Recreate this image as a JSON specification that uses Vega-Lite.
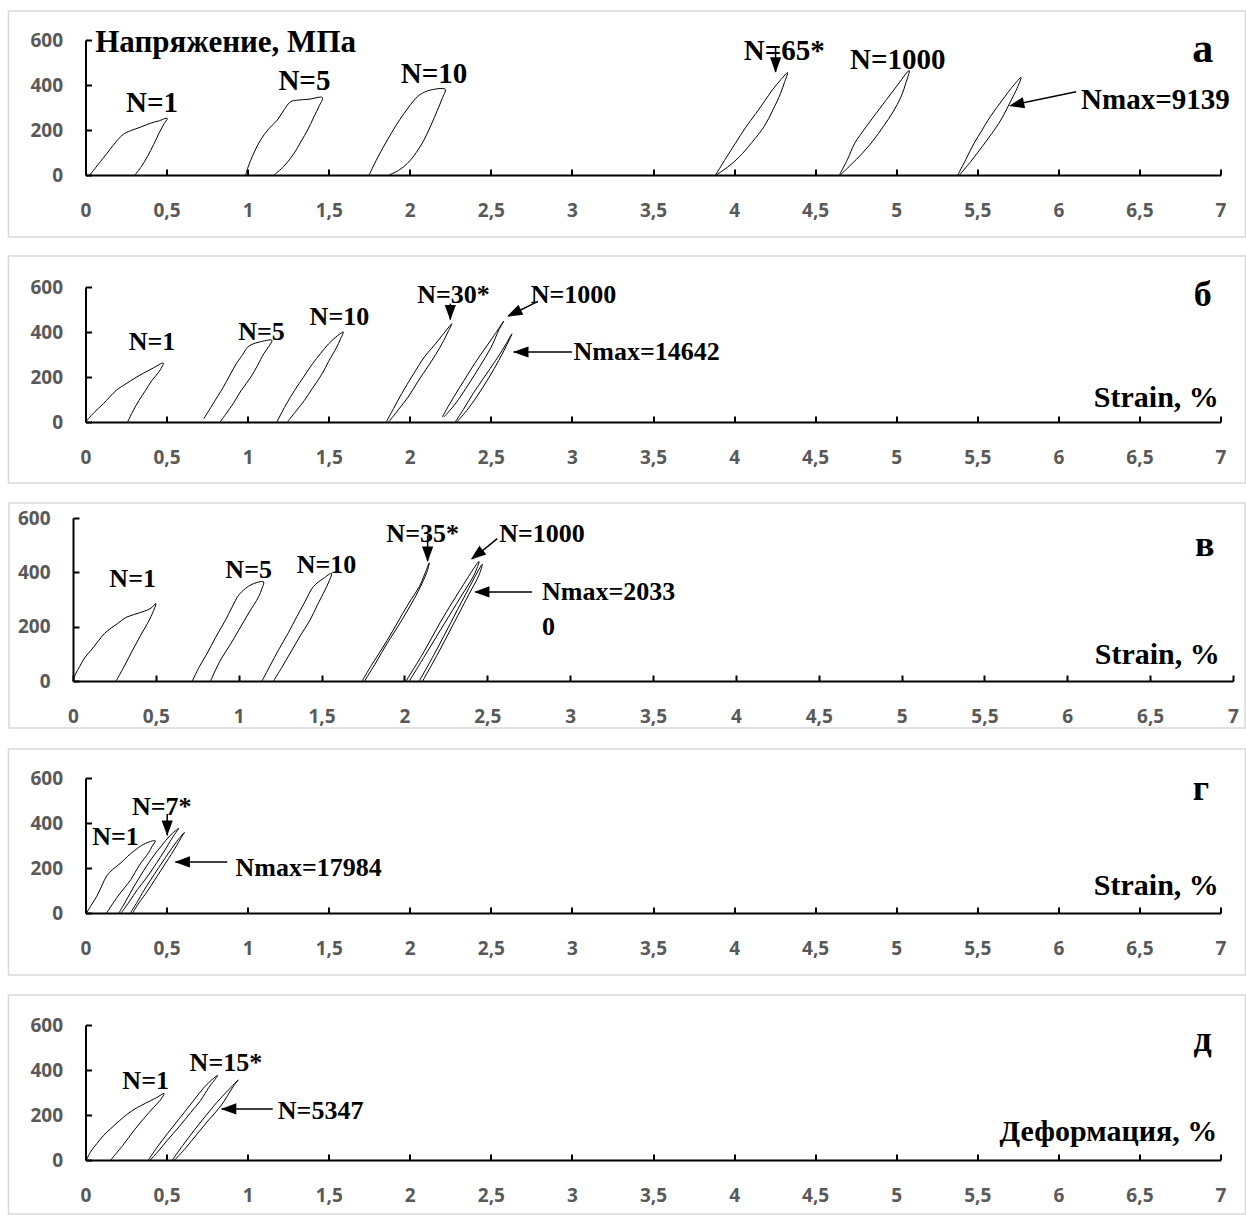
{
"$schema": "https://vega.github.io/schema/vega-lite/v6.json",
"background": "white",
"padding": {"left": 7, "top": 10, "right": 0, "bottom": 0},
"autosize": {"type": "pad"},
"bounds": "flush",
"center": true,
"spacing": 96,
"config": {
  "view": {"stroke": null},
  "axis": {"grid": false, "title": null, "domainColor": "#000000", "domainWidth": 2, "tickColor": "#000000", "tickWidth": 2, "tickSize": -6, "labelColor": "#595959", "labelFont": "Open Sans", "labelFontWeight": "bold", "labelFontSize": 19, "labelOverlap": false, "labelFlush": false},
  "axisX": {"labelPadding": 32},
  "axisY": {"labelPadding": 29},
  "text": {"font": "Liberation Serif", "fontWeight": "bold", "color": "#000000"},
  "line": {"color": "#000000", "strokeWidth": 1, "interpolate": "catmull-rom"},
  "rule": {"color": "#000000", "strokeWidth": 1.5}
},
"vconcat": [
{
  "width": 1135, "height": 135,
  "encoding": {
    "x": {"field": "x", "type": "quantitative", "scale": {"domain": [0, 7], "nice": false, "zero": false}, "axis": {"values": [0,0.5,1,1.5,2,2.5,3,3.5,4,4.5,5,5.5,6,6.5,7], "labelExpr": "replace(format(datum.value,'~g'),'.',',')"}},
    "y": {"field": "y", "type": "quantitative", "scale": {"domain": [0, 600], "nice": false, "zero": false}, "axis": {"values": [0,200,400,600]}}
  },
  "layer": [
    {"data": {"values": [{"x": -0.475, "x2": 7.154, "y": 729, "y2": -276}]}, "mark": {"type": "rect", "filled": false, "color": "#d9d9d9", "strokeWidth": 1.5}, "encoding": {"x2": {"field": "x2"}, "y2": {"field": "y2"}}},
    {"data": {"values": [
      {"l":"a1","x":0.027,"y":0},{"l":"a1","x":0.12,"y":85},{"l":"a1","x":0.216,"y":170},{"l":"a1","x":0.25,"y":188},{"l":"a1","x":0.278,"y":197},{"l":"a1","x":0.34,"y":213},{"l":"a1","x":0.40,"y":230},{"l":"a1","x":0.45,"y":240},{"l":"a1","x":0.504,"y":252},{"l":"a1","x":0.48,"y":222},{"l":"a1","x":0.453,"y":185},{"l":"a1","x":0.42,"y":135},{"l":"a1","x":0.381,"y":81},{"l":"a1","x":0.345,"y":38},{"l":"a1","x":0.305,"y":0},
      {"l":"a5","x":0.988,"y":0},{"l":"a5","x":1.0,"y":30},{"l":"a5","x":1.04,"y":100},{"l":"a5","x":1.08,"y":156},{"l":"a5","x":1.13,"y":205},{"l":"a5","x":1.183,"y":244},{"l":"a5","x":1.225,"y":290},{"l":"a5","x":1.265,"y":326},{"l":"a5","x":1.3,"y":332},{"l":"a5","x":1.38,"y":337},{"l":"a5","x":1.461,"y":344},{"l":"a5","x":1.44,"y":305},{"l":"a5","x":1.409,"y":259},{"l":"a5","x":1.37,"y":200},{"l":"a5","x":1.33,"y":150},{"l":"a5","x":1.286,"y":96},{"l":"a5","x":1.225,"y":40},{"l":"a5","x":1.163,"y":0},
      {"l":"a10","x":1.749,"y":0},{"l":"a10","x":1.80,"y":75},{"l":"a10","x":1.862,"y":156},{"l":"a10","x":1.915,"y":220},{"l":"a10","x":1.965,"y":274},{"l":"a10","x":2.047,"y":348},{"l":"a10","x":2.09,"y":368},{"l":"a10","x":2.13,"y":378},{"l":"a10","x":2.218,"y":381},{"l":"a10","x":2.20,"y":340},{"l":"a10","x":2.171,"y":289},{"l":"a10","x":2.13,"y":220},{"l":"a10","x":2.088,"y":156},{"l":"a10","x":2.04,"y":100},{"l":"a10","x":1.986,"y":52},{"l":"a10","x":1.93,"y":20},{"l":"a10","x":1.872,"y":0},
      {"l":"a65","x":3.886,"y":0},{"l":"a65","x":3.95,"y":75},{"l":"a65","x":4.008,"y":141},{"l":"a65","x":4.07,"y":210},{"l":"a65","x":4.135,"y":274},{"l":"a65","x":4.19,"y":330},{"l":"a65","x":4.236,"y":378},{"l":"a65","x":4.29,"y":425},{"l":"a65","x":4.33,"y":455},{"l":"a65","x":4.31,"y":410},{"l":"a65","x":4.287,"y":363},{"l":"a65","x":4.24,"y":290},{"l":"a65","x":4.185,"y":215},{"l":"a65","x":4.11,"y":145},{"l":"a65","x":4.033,"y":81},{"l":"a65","x":3.96,"y":35},{"l":"a65","x":3.89,"y":0},
      {"l":"a1000","x":4.65,"y":0},{"l":"a1000","x":4.70,"y":70},{"l":"a1000","x":4.744,"y":141},{"l":"a1000","x":4.81,"y":210},{"l":"a1000","x":4.876,"y":274},{"l":"a1000","x":4.94,"y":335},{"l":"a1000","x":5.0,"y":392},{"l":"a1000","x":5.08,"y":464},{"l":"a1000","x":5.06,"y":410},{"l":"a1000","x":5.03,"y":348},{"l":"a1000","x":4.98,"y":280},{"l":"a1000","x":4.92,"y":215},{"l":"a1000","x":4.86,"y":155},{"l":"a1000","x":4.79,"y":96},{"l":"a1000","x":4.72,"y":45},{"l":"a1000","x":4.655,"y":0},
      {"l":"a9139","x":5.38,"y":0},{"l":"a9139","x":5.43,"y":70},{"l":"a9139","x":5.48,"y":141},{"l":"a9139","x":5.53,"y":200},{"l":"a9139","x":5.58,"y":259},{"l":"a9139","x":5.67,"y":348},{"l":"a9139","x":5.72,"y":395},{"l":"a9139","x":5.77,"y":434},{"l":"a9139","x":5.745,"y":385},{"l":"a9139","x":5.72,"y":348},{"l":"a9139","x":5.645,"y":244},{"l":"a9139","x":5.59,"y":185},{"l":"a9139","x":5.53,"y":126},{"l":"a9139","x":5.46,"y":60},{"l":"a9139","x":5.39,"y":0}
    ]}, "mark": {"type": "line"}, "encoding": {"detail": {"field": "l"}, "order": {"value": null}}},
    {"data": {"values": [{"x":4.256,"y":570,"x2":4.256,"y2":458},{"x":6.11,"y":370,"x2":5.72,"y2":312}]}, "mark": {"type": "rule"}, "encoding": {"x2": {"field": "x2"}, "y2": {"field": "y2"}}},
    {"data": {"values": [{"x":4.256,"y":455}]}, "mark": {"type": "point", "shape": "M0,0L-0.8,2.2L0.8,2.2Z", "filled": true, "color": "#000000", "opacity": 1, "size": 196, "angle": 180}},
    {"data": {"values": [{"x":5.695,"y":307}]}, "mark": {"type": "point", "shape": "M0,0L-0.8,2.2L0.8,2.2Z", "filled": true, "color": "#000000", "opacity": 1, "size": 196, "angle": 258}},
    {"data": {"values": [{"t":"N=1","x":0.41,"y":318},{"t":"N=5","x":1.35,"y":420},{"t":"N=10","x":2.15,"y":450},{"t":"N=65*","x":4.31,"y":552},{"t":"N=1000","x":5.01,"y":512}]}, "mark": {"type": "text", "fontSize": 29, "align": "center", "baseline": "middle"}, "encoding": {"text": {"field": "t"}}},
    {"data": {"values": [{"t":"Nmax=9139","x":6.14,"y":335}]}, "mark": {"type": "text", "fontSize": 29, "align": "left", "baseline": "middle"}, "encoding": {"text": {"field": "t"}}},
    {"data": {"values": [{"t":"Напряжение, МПа","x":0.06,"y":588}]}, "mark": {"type": "text", "fontSize": 31, "align": "left", "baseline": "middle"}, "encoding": {"text": {"field": "t"}}},
    {"data": {"values": [{"t":"а","x":6.89,"y":560}]}, "mark": {"type": "text", "fontSize": 42, "align": "center", "baseline": "middle"}, "encoding": {"text": {"field": "t"}}}
  ]
},
{
  "width": 1135, "height": 151,
  "encoding": {
    "x": {"field": "x", "type": "quantitative", "scale": {"domain": [0, 7], "nice": false, "zero": false}, "axis": {"values": [0,0.5,1,1.5,2,2.5,3,3.5,4,4.5,5,5.5,6,6.5,7], "labelExpr": "replace(format(datum.value,'~g'),'.',',')"}},
    "y": {"field": "y", "type": "quantitative", "scale": {"domain": [0, 600], "nice": false, "zero": false, "range": [151, 16]}, "axis": {"values": [0,200,400,600]}}
  },
  "layer": [
    {"data": {"values": [{"x": -0.475, "x2": 7.154, "y": 738, "y2": -271}]}, "mark": {"type": "rect", "filled": false, "color": "#d9d9d9", "strokeWidth": 1.5}, "encoding": {"x2": {"field": "x2"}, "y2": {"field": "y2"}}},
    {"data": {"values": [
      {"l":"b1","x":0,"y":0},{"l":"b1","x":0.05,"y":40},{"l":"b1","x":0.11,"y":81},{"l":"b1","x":0.19,"y":141},{"l":"b1","x":0.25,"y":170},{"l":"b1","x":0.30,"y":193},{"l":"b1","x":0.36,"y":218},{"l":"b1","x":0.41,"y":237},{"l":"b1","x":0.48,"y":262},{"l":"b1","x":0.45,"y":220},{"l":"b1","x":0.41,"y":185},{"l":"b1","x":0.37,"y":140},{"l":"b1","x":0.33,"y":96},{"l":"b1","x":0.29,"y":45},{"l":"b1","x":0.26,"y":0},
      {"l":"b5","x":0.73,"y":15},{"l":"b5","x":0.79,"y":85},{"l":"b5","x":0.85,"y":155},{"l":"b5","x":0.93,"y":259},{"l":"b5","x":0.97,"y":300},{"l":"b5","x":1.0,"y":333},{"l":"b5","x":1.03,"y":346},{"l":"b5","x":1.07,"y":355},{"l":"b5","x":1.15,"y":363},{"l":"b5","x":1.13,"y":335},{"l":"b5","x":1.10,"y":304},{"l":"b5","x":1.06,"y":250},{"l":"b5","x":1.02,"y":200},{"l":"b5","x":0.96,"y":140},{"l":"b5","x":0.91,"y":81},{"l":"b5","x":0.87,"y":40},{"l":"b5","x":0.83,"y":0},
      {"l":"b10","x":1.18,"y":0},{"l":"b10","x":1.235,"y":75},{"l":"b10","x":1.29,"y":141},{"l":"b10","x":1.345,"y":200},{"l":"b10","x":1.40,"y":259},{"l":"b10","x":1.45,"y":305},{"l":"b10","x":1.50,"y":348},{"l":"b10","x":1.54,"y":375},{"l":"b10","x":1.57,"y":392},{"l":"b10","x":1.59,"y":400},{"l":"b10","x":1.57,"y":365},{"l":"b10","x":1.55,"y":333},{"l":"b10","x":1.50,"y":270},{"l":"b10","x":1.46,"y":215},{"l":"b10","x":1.40,"y":150},{"l":"b10","x":1.35,"y":96},{"l":"b10","x":1.30,"y":50},{"l":"b10","x":1.245,"y":0},
      {"l":"b30","x":1.855,"y":0},{"l":"b30","x":1.90,"y":60},{"l":"b30","x":1.95,"y":126},{"l":"b30","x":2.02,"y":210},{"l":"b30","x":2.09,"y":289},{"l":"b30","x":2.15,"y":340},{"l":"b30","x":2.20,"y":385},{"l":"b30","x":2.26,"y":437},{"l":"b30","x":2.235,"y":400},{"l":"b30","x":2.21,"y":363},{"l":"b30","x":2.16,"y":300},{"l":"b30","x":2.115,"y":250},{"l":"b30","x":2.05,"y":180},{"l":"b30","x":1.99,"y":111},{"l":"b30","x":1.93,"y":55},{"l":"b30","x":1.87,"y":0},
      {"l":"b1000","x":2.2,"y":22},{"l":"b1000","x":2.27,"y":110},{"l":"b1000","x":2.335,"y":185},{"l":"b1000","x":2.40,"y":260},{"l":"b1000","x":2.47,"y":333},{"l":"b1000","x":2.52,"y":385},{"l":"b1000","x":2.58,"y":449},{"l":"b1000","x":2.55,"y":410},{"l":"b1000","x":2.50,"y":330},{"l":"b1000","x":2.43,"y":245},{"l":"b1000","x":2.36,"y":165},{"l":"b1000","x":2.28,"y":80},{"l":"b1000","x":2.21,"y":22},
      {"l":"bN","x":2.28,"y":0},{"l":"bN","x":2.33,"y":55},{"l":"bN","x":2.39,"y":126},{"l":"bN","x":2.46,"y":200},{"l":"bN","x":2.53,"y":274},{"l":"bN","x":2.58,"y":330},{"l":"bN","x":2.63,"y":392},{"l":"bN","x":2.60,"y":345},{"l":"bN","x":2.55,"y":275},{"l":"bN","x":2.49,"y":200},{"l":"bN","x":2.42,"y":120},{"l":"bN","x":2.35,"y":50},{"l":"bN","x":2.29,"y":0}
    ]}, "mark": {"type": "line"}, "encoding": {"detail": {"field": "l"}, "order": {"value": null}}},
    {"data": {"values": [{"x":2.25,"y":526,"x2":2.25,"y2":455},{"x":2.79,"y":536,"x2":2.61,"y2":471},{"x":3.0,"y":311,"x2":2.64,"y2":311}]}, "mark": {"type": "rule"}, "encoding": {"x2": {"field": "x2"}, "y2": {"field": "y2"}}},
    {"data": {"values": [{"x":2.25,"y":452}]}, "mark": {"type": "point", "shape": "M0,0L-0.8,2.2L0.8,2.2Z", "filled": true, "color": "#000000", "opacity": 1, "size": 196, "angle": 180}},
    {"data": {"values": [{"x":2.60,"y":469}]}, "mark": {"type": "point", "shape": "M0,0L-0.8,2.2L0.8,2.2Z", "filled": true, "color": "#000000", "opacity": 1, "size": 196, "angle": 244}},
    {"data": {"values": [{"x":2.637,"y":311}]}, "mark": {"type": "point", "shape": "M0,0L-0.8,2.2L0.8,2.2Z", "filled": true, "color": "#000000", "opacity": 1, "size": 196, "angle": 270}},
    {"data": {"values": [{"t":"N=1","x":0.41,"y":355},{"t":"N=5","x":1.085,"y":400},{"t":"N=10","x":1.566,"y":466},{"t":"N=30*","x":2.27,"y":563},{"t":"N=1000","x":3.01,"y":563}]}, "mark": {"type": "text", "fontSize": 26, "align": "center", "baseline": "middle"}, "encoding": {"text": {"field": "t"}}},
    {"data": {"values": [{"t":"Nmax=14642","x":3.01,"y":311}]}, "mark": {"type": "text", "fontSize": 26, "align": "left", "baseline": "middle"}, "encoding": {"text": {"field": "t"}}},
    {"data": {"values": [{"t":"Strain, %","x":6.99,"y":108}]}, "mark": {"type": "text", "fontSize": 30, "align": "right", "baseline": "middle"}, "encoding": {"text": {"field": "t"}}},
    {"data": {"values": [{"t":"б","x":6.89,"y":563}]}, "mark": {"type": "text", "fontSize": 36, "align": "center", "baseline": "middle"}, "encoding": {"text": {"field": "t"}}}
  ]
},
{
  "width": 1160, "height": 163,
  "encoding": {
    "x": {"field": "x", "type": "quantitative", "scale": {"domain": [0, 7], "nice": false, "zero": false}, "axis": {"values": [0,0.5,1,1.5,2,2.5,3,3.5,4,4.5,5,5.5,6,6.5,7], "labelExpr": "replace(format(datum.value,'~g'),'.',',')"}},
    "y": {"field": "y", "type": "quantitative", "scale": {"domain": [0, 600], "nice": false, "zero": false}, "axis": {"values": [0,200,400,600]}}
  },
  "layer": [
    {"data": {"values": [{"x": -0.386, "x2": 7.073, "y": 655, "y2": -173}]}, "mark": {"type": "rect", "filled": false, "color": "#d9d9d9", "strokeWidth": 1.5}, "encoding": {"x2": {"field": "x2"}, "y2": {"field": "y2"}}},
    {"data": {"values": [
      {"l":"c1","x":0,"y":0},{"l":"c1","x":0.015,"y":25},{"l":"c1","x":0.04,"y":53},{"l":"c1","x":0.07,"y":85},{"l":"c1","x":0.11,"y":114},{"l":"c1","x":0.15,"y":145},{"l":"c1","x":0.19,"y":175},{"l":"c1","x":0.23,"y":195},{"l":"c1","x":0.27,"y":212},{"l":"c1","x":0.32,"y":234},{"l":"c1","x":0.37,"y":245},{"l":"c1","x":0.43,"y":257},{"l":"c1","x":0.47,"y":268},{"l":"c1","x":0.50,"y":285},{"l":"c1","x":0.48,"y":250},{"l":"c1","x":0.46,"y":224},{"l":"c1","x":0.41,"y":170},{"l":"c1","x":0.36,"y":114},{"l":"c1","x":0.31,"y":55},{"l":"c1","x":0.26,"y":0},
      {"l":"c5","x":0.72,"y":0},{"l":"c5","x":0.76,"y":50},{"l":"c5","x":0.81,"y":102},{"l":"c5","x":0.86,"y":160},{"l":"c5","x":0.92,"y":224},{"l":"c5","x":0.96,"y":272},{"l":"c5","x":1.0,"y":316},{"l":"c5","x":1.04,"y":340},{"l":"c5","x":1.08,"y":356},{"l":"c5","x":1.15,"y":365},{"l":"c5","x":1.14,"y":340},{"l":"c5","x":1.12,"y":310},{"l":"c5","x":1.06,"y":250},{"l":"c5","x":1.0,"y":187},{"l":"c5","x":0.95,"y":135},{"l":"c5","x":0.89,"y":77},{"l":"c5","x":0.83,"y":0},
      {"l":"c10","x":1.14,"y":0},{"l":"c10","x":1.19,"y":57},{"l":"c10","x":1.24,"y":114},{"l":"c10","x":1.30,"y":178},{"l":"c10","x":1.35,"y":236},{"l":"c10","x":1.40,"y":292},{"l":"c10","x":1.45,"y":347},{"l":"c10","x":1.51,"y":377},{"l":"c10","x":1.56,"y":396},{"l":"c10","x":1.54,"y":360},{"l":"c10","x":1.52,"y":334},{"l":"c10","x":1.475,"y":280},{"l":"c10","x":1.43,"y":224},{"l":"c10","x":1.37,"y":165},{"l":"c10","x":1.31,"y":102},{"l":"c10","x":1.26,"y":50},{"l":"c10","x":1.21,"y":0},
      {"l":"c35","x":1.745,"y":0},{"l":"c35","x":1.80,"y":57},{"l":"c35","x":1.86,"y":114},{"l":"c35","x":1.93,"y":185},{"l":"c35","x":1.99,"y":249},{"l":"c35","x":2.04,"y":300},{"l":"c35","x":2.09,"y":347},{"l":"c35","x":2.12,"y":390},{"l":"c35","x":2.15,"y":435},{"l":"c35","x":2.135,"y":400},{"l":"c35","x":2.115,"y":371},{"l":"c35","x":2.07,"y":315},{"l":"c35","x":2.02,"y":261},{"l":"c35","x":1.96,"y":200},{"l":"c35","x":1.895,"y":138},{"l":"c35","x":1.83,"y":70},{"l":"c35","x":1.76,"y":0},
      {"l":"c1000","x":2.01,"y":0},{"l":"c1000","x":2.12,"y":110},{"l":"c1000","x":2.22,"y":220},{"l":"c1000","x":2.32,"y":320},{"l":"c1000","x":2.45,"y":440},{"l":"c1000","x":2.42,"y":390},{"l":"c1000","x":2.34,"y":310},{"l":"c1000","x":2.24,"y":210},{"l":"c1000","x":2.14,"y":110},{"l":"c1000","x":2.03,"y":0},
      {"l":"cN","x":2.09,"y":0},{"l":"cN","x":2.19,"y":110},{"l":"cN","x":2.28,"y":215},{"l":"cN","x":2.37,"y":320},{"l":"cN","x":2.47,"y":430},{"l":"cN","x":2.45,"y":390},{"l":"cN","x":2.39,"y":320},{"l":"cN","x":2.30,"y":215},{"l":"cN","x":2.21,"y":110},{"l":"cN","x":2.11,"y":0}
    ]}, "mark": {"type": "line"}, "encoding": {"detail": {"field": "l"}, "order": {"value": null}}},
    {"data": {"values": [{"x":2.14,"y":536,"x2":2.14,"y2":441},{"x":2.56,"y":524,"x2":2.41,"y2":449},{"x":2.77,"y":328,"x2":2.43,"y2":328}]}, "mark": {"type": "rule"}, "encoding": {"x2": {"field": "x2"}, "y2": {"field": "y2"}}},
    {"data": {"values": [{"x":2.14,"y":438}]}, "mark": {"type": "point", "shape": "M0,0L-0.8,2.2L0.8,2.2Z", "filled": true, "color": "#000000", "opacity": 1, "size": 196, "angle": 180}},
    {"data": {"values": [{"x":2.40,"y":447}]}, "mark": {"type": "point", "shape": "M0,0L-0.8,2.2L0.8,2.2Z", "filled": true, "color": "#000000", "opacity": 1, "size": 196, "angle": 232}},
    {"data": {"values": [{"x":2.42,"y":328}]}, "mark": {"type": "point", "shape": "M0,0L-0.8,2.2L0.8,2.2Z", "filled": true, "color": "#000000", "opacity": 1, "size": 196, "angle": 270}},
    {"data": {"values": [{"t":"N=1","x":0.36,"y":377},{"t":"N=5","x":1.06,"y":408},{"t":"N=10","x":1.53,"y":426},{"t":"N=35*","x":2.11,"y":542},{"t":"N=1000","x":2.83,"y":542}]}, "mark": {"type": "text", "fontSize": 26, "align": "center", "baseline": "middle"}, "encoding": {"text": {"field": "t"}}},
    {"data": {"values": [{"t":"Nmax=2033","x":2.83,"y":328},{"t":"0","x":2.83,"y":200}]}, "mark": {"type": "text", "fontSize": 26, "align": "left", "baseline": "middle"}, "encoding": {"text": {"field": "t"}}},
    {"data": {"values": [{"t":"Strain, %","x":6.92,"y":96}]}, "mark": {"type": "text", "fontSize": 30, "align": "right", "baseline": "middle"}, "encoding": {"text": {"field": "t"}}},
    {"data": {"values": [{"t":"в","x":6.83,"y":500}]}, "mark": {"type": "text", "fontSize": 36, "align": "center", "baseline": "middle"}, "encoding": {"text": {"field": "t"}}}
  ]
},
{
  "width": 1135, "height": 136,
  "encoding": {
    "x": {"field": "x", "type": "quantitative", "scale": {"domain": [0, 7], "nice": false, "zero": false}, "axis": {"values": [0,0.5,1,1.5,2,2.5,3,3.5,4,4.5,5,5.5,6,6.5,7], "labelExpr": "replace(format(datum.value,'~g'),'.',',')"}},
    "y": {"field": "y", "type": "quantitative", "scale": {"domain": [0, 600], "nice": false, "zero": false, "range": [136, 1]}, "axis": {"values": [0,200,400,600]}}
  },
  "layer": [
    {"data": {"values": [{"x": -0.475, "x2": 7.154, "y": 729, "y2": -276}]}, "mark": {"type": "rect", "filled": false, "color": "#d9d9d9", "strokeWidth": 1.5}, "encoding": {"x2": {"field": "x2"}, "y2": {"field": "y2"}}},
    {"data": {"values": [
      {"l":"d1","x":0.006,"y":0},{"l":"d1","x":0.04,"y":40},{"l":"d1","x":0.07,"y":75},{"l":"d1","x":0.10,"y":120},{"l":"d1","x":0.13,"y":164},{"l":"d1","x":0.17,"y":195},{"l":"d1","x":0.22,"y":224},{"l":"d1","x":0.26,"y":252},{"l":"d1","x":0.30,"y":276},{"l":"d1","x":0.36,"y":306},{"l":"d1","x":0.43,"y":321},{"l":"d1","x":0.41,"y":295},{"l":"d1","x":0.39,"y":269},{"l":"d1","x":0.33,"y":210},{"l":"d1","x":0.28,"y":149},{"l":"d1","x":0.20,"y":75},{"l":"d1","x":0.13,"y":0},
      {"l":"d7","x":0.206,"y":0},{"l":"d7","x":0.25,"y":55},{"l":"d7","x":0.30,"y":119},{"l":"d7","x":0.36,"y":190},{"l":"d7","x":0.42,"y":254},{"l":"d7","x":0.47,"y":300},{"l":"d7","x":0.52,"y":343},{"l":"d7","x":0.575,"y":376},{"l":"d7","x":0.55,"y":350},{"l":"d7","x":0.53,"y":328},{"l":"d7","x":0.49,"y":280},{"l":"d7","x":0.44,"y":224},{"l":"d7","x":0.38,"y":160},{"l":"d7","x":0.32,"y":104},{"l":"d7","x":0.27,"y":50},{"l":"d7","x":0.22,"y":0},
      {"l":"dN","x":0.277,"y":0},{"l":"dN","x":0.32,"y":50},{"l":"dN","x":0.36,"y":100},{"l":"dN","x":0.45,"y":200},{"l":"dN","x":0.53,"y":285},{"l":"dN","x":0.57,"y":325},{"l":"dN","x":0.61,"y":358},{"l":"dN","x":0.59,"y":335},{"l":"dN","x":0.55,"y":285},{"l":"dN","x":0.47,"y":195},{"l":"dN","x":0.38,"y":95},{"l":"dN","x":0.33,"y":45},{"l":"dN","x":0.29,"y":0}
    ]}, "mark": {"type": "line"}, "encoding": {"detail": {"field": "l"}, "order": {"value": null}}},
    {"data": {"values": [{"x":0.504,"y":440,"x2":0.504,"y2":346},{"x":0.874,"y":227,"x2":0.555,"y2":227}]}, "mark": {"type": "rule"}, "encoding": {"x2": {"field": "x2"}, "y2": {"field": "y2"}}},
    {"data": {"values": [{"x":0.504,"y":343}]}, "mark": {"type": "point", "shape": "M0,0L-0.8,2.2L0.8,2.2Z", "filled": true, "color": "#000000", "opacity": 1, "size": 196, "angle": 180}},
    {"data": {"values": [{"x":0.549,"y":227}]}, "mark": {"type": "point", "shape": "M0,0L-0.8,2.2L0.8,2.2Z", "filled": true, "color": "#000000", "opacity": 1, "size": 196, "angle": 270}},
    {"data": {"values": [{"t":"N=1","x":0.185,"y":336},{"t":"N=7*","x":0.47,"y":470}]}, "mark": {"type": "text", "fontSize": 26, "align": "center", "baseline": "middle"}, "encoding": {"text": {"field": "t"}}},
    {"data": {"values": [{"t":"Nmax=17984","x":0.925,"y":201}]}, "mark": {"type": "text", "fontSize": 26, "align": "left", "baseline": "middle"}, "encoding": {"text": {"field": "t"}}},
    {"data": {"values": [{"t":"Strain, %","x":6.99,"y":119}]}, "mark": {"type": "text", "fontSize": 30, "align": "right", "baseline": "middle"}, "encoding": {"text": {"field": "t"}}},
    {"data": {"values": [{"t":"г","x":6.88,"y":552}]}, "mark": {"type": "text", "fontSize": 36, "align": "center", "baseline": "middle"}, "encoding": {"text": {"field": "t"}}}
  ]
},
{
  "width": 1135, "height": 151,
  "encoding": {
    "x": {"field": "x", "type": "quantitative", "scale": {"domain": [0, 7], "nice": false, "zero": false}, "axis": {"values": [0,0.5,1,1.5,2,2.5,3,3.5,4,4.5,5,5.5,6,6.5,7], "labelExpr": "replace(format(datum.value,'~g'),'.',',')"}},
    "y": {"field": "y", "type": "quantitative", "scale": {"domain": [0, 600], "nice": false, "zero": false, "range": [151, 16]}, "axis": {"values": [0,200,400,600]}}
  },
  "layer": [
    {"data": {"values": [{"x": -0.475, "x2": 7.154, "y": 733, "y2": -240}]}, "mark": {"type": "rect", "filled": false, "color": "#d9d9d9", "strokeWidth": 1.5}, "encoding": {"x2": {"field": "x2"}, "y2": {"field": "y2"}}},
    {"data": {"values": [
      {"l":"e1","x":0.006,"y":0},{"l":"e1","x":0.03,"y":35},{"l":"e1","x":0.07,"y":73},{"l":"e1","x":0.11,"y":108},{"l":"e1","x":0.155,"y":139},{"l":"e1","x":0.21,"y":175},{"l":"e1","x":0.26,"y":205},{"l":"e1","x":0.30,"y":225},{"l":"e1","x":0.34,"y":241},{"l":"e1","x":0.40,"y":263},{"l":"e1","x":0.44,"y":278},{"l":"e1","x":0.485,"y":296},{"l":"e1","x":0.46,"y":265},{"l":"e1","x":0.42,"y":234},{"l":"e1","x":0.36,"y":185},{"l":"e1","x":0.30,"y":132},{"l":"e1","x":0.23,"y":65},{"l":"e1","x":0.155,"y":0},
      {"l":"e15","x":0.388,"y":0},{"l":"e15","x":0.44,"y":55},{"l":"e15","x":0.505,"y":117},{"l":"e15","x":0.58,"y":185},{"l":"e15","x":0.65,"y":249},{"l":"e15","x":0.70,"y":295},{"l":"e15","x":0.75,"y":337},{"l":"e15","x":0.815,"y":376},{"l":"e15","x":0.79,"y":350},{"l":"e15","x":0.76,"y":322},{"l":"e15","x":0.71,"y":265},{"l":"e15","x":0.65,"y":212},{"l":"e15","x":0.58,"y":150},{"l":"e15","x":0.505,"y":88},{"l":"e15","x":0.45,"y":40},{"l":"e15","x":0.40,"y":0},
      {"l":"e5347","x":0.536,"y":0},{"l":"e5347","x":0.60,"y":65},{"l":"e5347","x":0.67,"y":132},{"l":"e5347","x":0.74,"y":195},{"l":"e5347","x":0.81,"y":256},{"l":"e5347","x":0.88,"y":310},{"l":"e5347","x":0.942,"y":356},{"l":"e5347","x":0.91,"y":325},{"l":"e5347","x":0.835,"y":241},{"l":"e5347","x":0.76,"y":178},{"l":"e5347","x":0.69,"y":117},{"l":"e5347","x":0.62,"y":55},{"l":"e5347","x":0.55,"y":0}
    ]}, "mark": {"type": "line"}, "encoding": {"detail": {"field": "l"}, "order": {"value": null}}},
    {"data": {"values": [{"x":1.155,"y":227,"x2":0.84,"y2":227}]}, "mark": {"type": "rule"}, "encoding": {"x2": {"field": "x2"}, "y2": {"field": "y2"}}},
    {"data": {"values": [{"x":0.835,"y":227}]}, "mark": {"type": "point", "shape": "M0,0L-0.8,2.2L0.8,2.2Z", "filled": true, "color": "#000000", "opacity": 1, "size": 196, "angle": 270}},
    {"data": {"values": [{"t":"N=1","x":0.371,"y":351},{"t":"N=15*","x":0.866,"y":432}]}, "mark": {"type": "text", "fontSize": 26, "align": "center", "baseline": "middle"}, "encoding": {"text": {"field": "t"}}},
    {"data": {"values": [{"t":"N=5347","x":1.186,"y":220}]}, "mark": {"type": "text", "fontSize": 26, "align": "left", "baseline": "middle"}, "encoding": {"text": {"field": "t"}}},
    {"data": {"values": [{"t":"Деформация, %","x":6.98,"y":124}]}, "mark": {"type": "text", "fontSize": 30, "align": "right", "baseline": "middle"}, "encoding": {"text": {"field": "t"}}},
    {"data": {"values": [{"t":"д","x":6.89,"y":534}]}, "mark": {"type": "text", "fontSize": 36, "align": "center", "baseline": "middle"}, "encoding": {"text": {"field": "t"}}}
  ]
}
]
}
